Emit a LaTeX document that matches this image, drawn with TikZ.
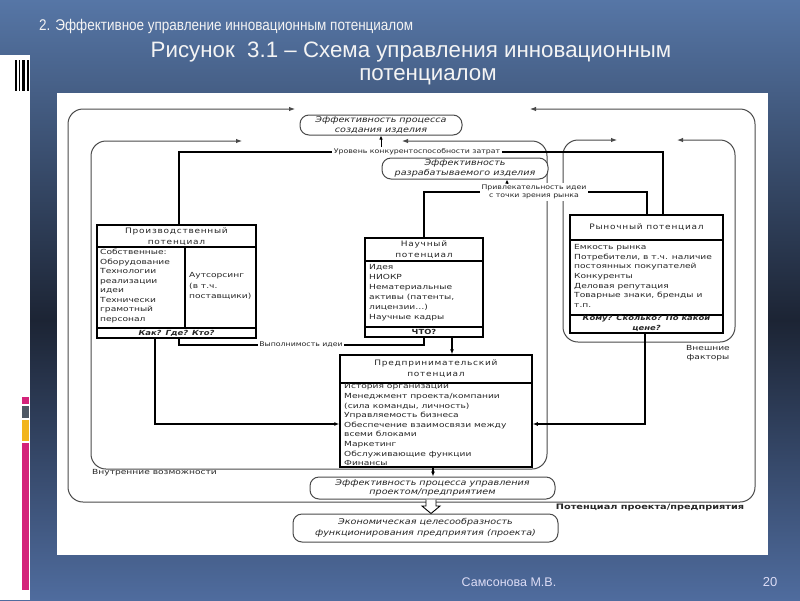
\documentclass[tikz,border=0pt]{standalone}
\usepackage{fontspec}
\usepackage{graphicx}
\usetikzlibrary{arrows.meta}
\setmainfont{Liberation Sans}
\newfontfamily\nfont{Liberation Sans}[FakeStretch=0.87]
\newfontfamily\dfont{DejaVu Sans}[FakeStretch=1.2]
\newfontfamily\bfont{DejaVu Sans}[FakeStretch=1.3]
\newfontfamily\hfont{DejaVu Sans}[FakeStretch=1.2,LetterSpace=10]
\definecolor{bgtop}{HTML}{5676A6}
\definecolor{bgmid}{HTML}{1C2434}
\definecolor{bgbot}{HTML}{4F6C9E}
\definecolor{ink}{HTML}{262626}
\definecolor{frame}{HTML}{4A4A4A}
\definecolor{mag}{HTML}{D4237A}
\definecolor{gry}{HTML}{4E5864}
\definecolor{yel}{HTML}{F2B51C}
\definecolor{titlec}{HTML}{F4F4F4}
\tikzset{
  box/.style={draw=black, line width=1.5pt, inner sep=0pt, fill=white},
  sepline/.style={draw=black, line width=1.2pt},
  boxbody/.style={font=\bfont\fontsize{7}{9.5}\selectfont, text=ink, align=left, inner sep=0pt, anchor=north west},
  boxhead/.style={font=\hfont\fontsize{7.5}{11}\selectfont, text=ink, align=center, inner sep=0pt},
  boxfoot/.style={font=\dfont\bfseries\itshape\fontsize{7}{10}\selectfont, text=ink, align=center, inner sep=0pt},
  eff/.style={draw=frame, line width=1pt, rounded corners=9pt, fill=white, font=\dfont\itshape\fontsize{8}{9.5}\selectfont, align=center, inner sep=0pt, text=ink},
  tinylbl/.style={font=\dfont\fontsize{6.5}{8.5}\selectfont, text=ink, inner sep=1.5pt, fill=white, align=center},
  lbl/.style={font=\bfont\fontsize{7}{9.5}\selectfont, text=ink, inner sep=0pt, align=center},
  conn/.style={draw=black, line width=1.3pt},
  arr/.style={-{Latex[length=5pt,width=4pt]}},
  thinarr/.style={draw=black, line width=0.8pt, -{Latex[length=4pt,width=3.5pt]}},
  frm/.style={draw=frame, line width=1pt, rounded corners=15pt, {Latex[length=6pt,width=4.5pt]}-{Latex[length=6pt,width=4.5pt]}},
}
\begin{document}
\begin{tikzpicture}[x=1pt,y=-1pt]
\useasboundingbox (0,0) rectangle (800,600);
% slide background
\shade[top color=bgtop, bottom color=bgmid] (0,0) rectangle (800,320.5);
\shade[top color=bgmid, bottom color=bgbot] (0,320) rectangle (800,600);
\fill[white] (0,55) rectangle (30,600);
\fill[black] (15,60) rectangle (17,91);
\fill[black] (19,60) rectangle (20,91);
\fill[black] (22,60) rectangle (25,91);
\fill[black] (27,60) rectangle (29,91);
\fill[mag] (22,397) rectangle (29,404);
\fill[gry] (22,406) rectangle (29,418);
\fill[yel] (22,420) rectangle (29,441);
\fill[mag] (22,443) rectangle (29,590);
% titles
\node[font=\nfont\fontsize{15.5}{17}\selectfont, text=titlec, anchor=west, inner sep=0pt] (sub) at (39,26) {2. Эффективное управление инновационным потенциалом};
\node[font=\fontsize{22.3}{24}\selectfont, text=titlec, inner sep=0pt] (t1) at (411,52) {Рисунок\ \ 3.1 – Схема управления инновационным};
\node[font=\fontsize{22.3}{24}\selectfont, text=titlec, inner sep=0pt] (t2) at (428,77) {потенциалом};
\node[font=\fontsize{12.5}{14}\selectfont, text=titlec!90!blue, inner sep=0pt] (auth) at (509,582) {Самсонова М.В.};
\node[font=\fontsize{13}{14}\selectfont, text=titlec!90!blue, inner sep=0pt] (pg) at (770,582) {20};
% white panel
\fill[white] (57,93) rectangle (768,555);

% frames
\draw[frm] (295,109) -- (68,109) -- (68,502) -- (755,502) -- (755,109) -- (530,109);
\draw[frm] (242,141) -- (91,141) -- (91,469) -- (547,469) -- (547,141) -- (402,141);
\draw[frm] (617,140) -- (563,140) -- (563,342) -- (735,342) -- (735,140) -- (677,140);

% effect nodes
\node[eff, minimum width=162pt, minimum height=20pt] (e1) at (381,125) {Эффективность процесса\\создания изделия};
\node[eff, minimum width=166pt, minimum height=21pt] (e2) at (465,168.5) {Эффективность\\разрабатываемого изделия};
\node[eff, minimum width=245pt, minimum height=22pt] (e3) at (432.5,488) {Эффективность процесса управления\\проектом/предприятием};
\node[eff, minimum width=265pt, minimum height=28pt, font=\dfont\itshape\fontsize{8}{11}\selectfont] (e4) at (425.5,528) {Экономическая целесообразность\\функционирования предприятия (проекта)};

% Производственный потенциал
\node[box, minimum width=159pt, minimum height=113pt] (prod) at (176.5,281.5) {};
\draw[sepline] (97,247) -- (256,247);
\draw[sepline] (185,247) -- (185,328);
\draw[sepline] (97,328) -- (256,328);
\node[boxhead] (prodh) at (176.5,236.5) {Производственный\\потенциал};
\node[boxbody] (prodb) at (100,249) {Собственные:\\Оборудование\\Технологии\\реализации\\идеи\\Технически\\грамотный\\персонал};
\node[boxbody, anchor=west, font=\bfont\fontsize{7}{10.5}\selectfont] (prodo) at (189,286) {Аутсорсинг\\(в т.ч.\\поставщики)};
\node[boxfoot] (prodf) at (176.5,333) {Как? Где? Кто?};

% Научный потенциал
\node[box, minimum width=118pt, minimum height=99pt] (nauch) at (424,287.5) {};
\draw[sepline] (365,261) -- (483,261);
\draw[sepline] (365,327) -- (483,327);
\node[boxhead] (nauchh) at (424,249.5) {Научный\\потенциал};
\node[boxbody, font=\bfont\fontsize{7}{10}\selectfont] (nauchb) at (369,264) {Идея\\НИОКР\\Нематериальные\\активы (патенты,\\лицензии…)\\Научные кадры};
\node[boxfoot, font=\dfont\bfseries\fontsize{7}{10}\selectfont] (nauchf) at (424,332) {ЧТО?};

% Рыночный потенциал
\node[box, minimum width=153pt, minimum height=118pt] (rynok) at (646.5,274) {};
\draw[sepline] (570,240) -- (723,240);
\draw[sepline] (570,315) -- (723,315);
\node[boxhead] (rynokh) at (646.5,227.5) {Рыночный потенциал};
\node[boxbody, font=\bfont\fontsize{7}{9.7}\selectfont] (rynokb) at (574,244) {Емкость рынка\\Потребители, в т.ч. наличие\\постоянных покупателей\\Конкуренты\\Деловая репутация\\Товарные знаки, бренды и\\т.п.};
\node[boxfoot] (rynokf) at (646.5,323.5) {Кому? Сколько? По какой\\цене?};

% Предпринимательский потенциал
\node[box, minimum width=192pt, minimum height=112pt] (pred) at (436,411) {};
\draw[sepline] (340,383) -- (532,383);
\node[boxhead] (predh) at (436,368.5) {Предпринимательский\\потенциал};
\node[boxbody, font=\bfont\fontsize{7}{9.6}\selectfont] (predb) at (344,383.5) {История организации\\Менеджмент проекта/компании\\(сила команды, личность)\\Управляемость бизнеса\\Обеспечение взаимосвязи между\\всеми блоками\\Маркетинг\\Обслуживающие функции\\Финансы};

% connector labels
\node[tinylbl] (lvl) at (417,152) {Уровень конкурентоспособности затрат};
\node[tinylbl] (attr) at (534,192) {Привлекательность идеи\\с точки зрения рынка};
\node[tinylbl] (vyp) at (301,345) {Выполнимость идеи};

% connectors
\draw[conn, line width=1.7pt] (prod.north -| 179,0) |- (lvl.west);
\draw[conn, line width=1.7pt] (lvl.east) -| (rynok.north -| 663,0);
\draw[thinarr] (lvl.north -| 381,0) -- (e1.south -| 381,0);
\draw[conn] (nauch.north -| 424,0) |- (attr.west);
\draw[conn] (attr.east) -| (rynok.north -| 647,0);
\draw[thinarr] (attr.north -| 507,0) -- (e2.south -| 507,0);
\draw[conn] (prod.south -| 179,0) |- (vyp.west);
\draw[conn] (vyp.east) -| (nauch.south -| 424,0);
\draw[conn, arr] (nauch.south -| 452,0) -- (pred.north -| 452,0);
\draw[conn, arr] (prod.south -| 155,0) |- (pred.west |- 0,424);
\draw[conn, arr] (rynok.south -| 645,0) |- (pred.east |- 0,424);
\draw[conn, arr] (pred.south -| 433,0) -- (e3.north -| 433,0);
\draw[draw=black, line width=0.9pt, fill=white] (e3.south -| 426,0) -- (426,506) -- (422,506) -- (431,513.5) -- (440,506) -- (436,506) -- (e3.south -| 436,0);

% frame labels
\node[lbl, anchor=west] (innerl) at (92,473) {Внутренние возможности};
\node[lbl] (extl) at (708,353) {Внешние\\факторы};
\node[lbl, font=\bfont\bfseries\fontsize{7.5}{9}\selectfont] (potl) at (650,508) {Потенциал проекта/предприятия};
\end{tikzpicture}
\end{document}
